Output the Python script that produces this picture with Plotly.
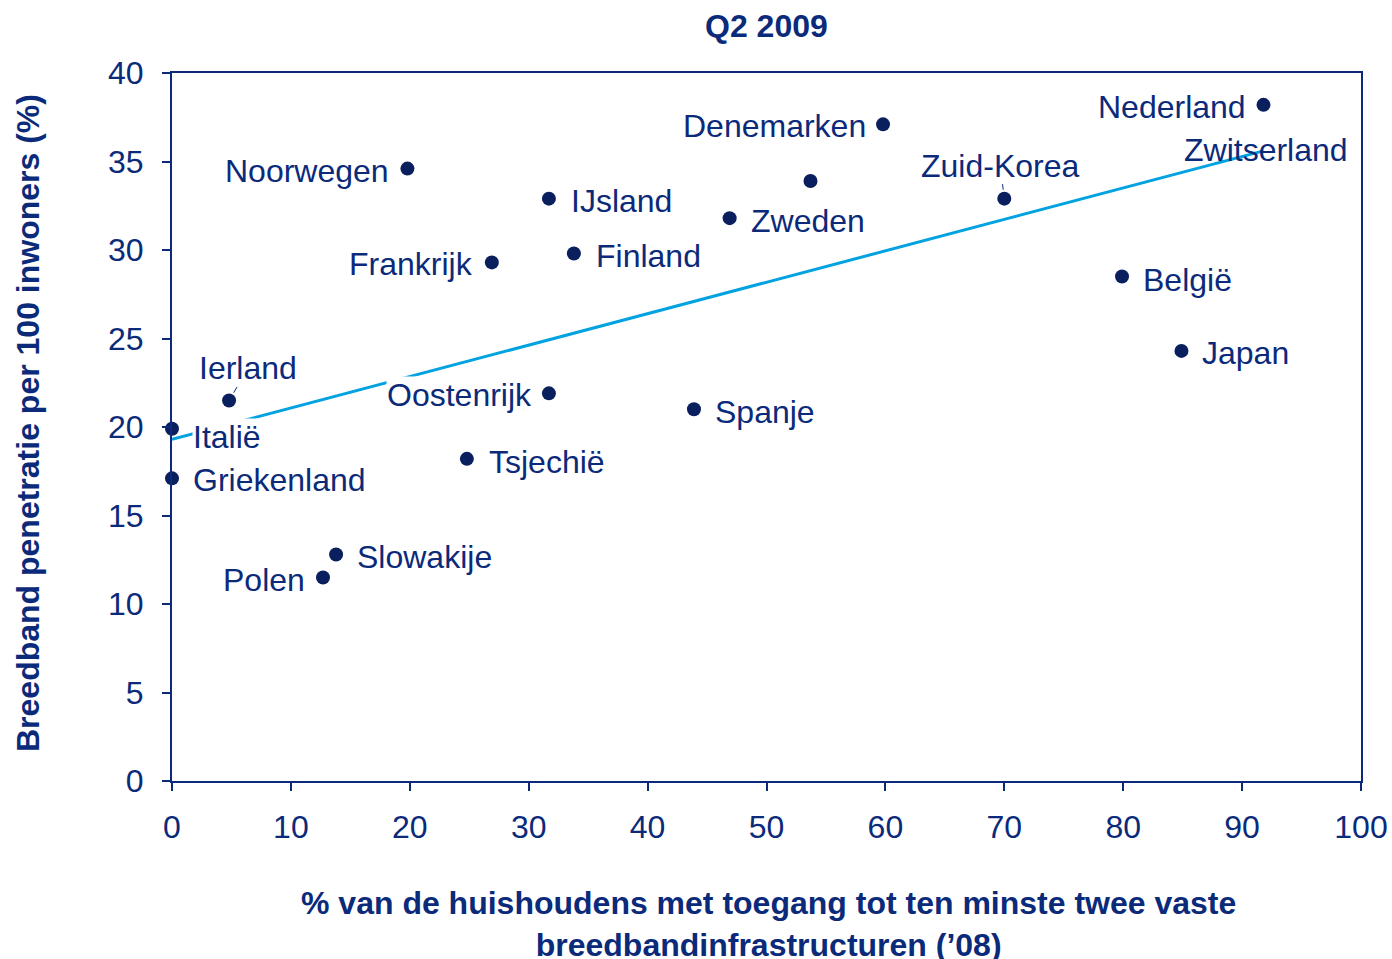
import plotly.graph_objects as go

# ---- data ----
countries = ["Nederland", "Denemarken", "Noorwegen", "Zwitserland", "IJsland", "Zuid-Korea",
             "Zweden", "Finland", "Frankrijk", "België", "Japan", "Ierland", "Oostenrijk",
             "Spanje", "Italië", "Tsjechië", "Griekenland", "Slowakije", "Polen"]
x_households = [91.8, 59.8, 19.8, 53.7, 31.7, 70.0, 46.9, 33.8, 26.9, 79.9, 84.9, 4.8, 31.7,
                43.9, 0.0, 24.8, 0.0, 13.8, 12.7]
y_penetration = [38.2, 37.1, 34.6, 33.9, 32.9, 32.9, 31.8, 29.8, 29.3, 28.5, 24.3, 21.5, 21.9,
                 21.0, 19.9, 18.2, 17.1, 12.8, 11.5]
trend_x = [0.0, 91.8]
trend_y = [19.3, 35.6]
x_ticks = [0, 10, 20, 30, 40, 50, 60, 70, 80, 90, 100]
y_ticks = [0, 5, 10, 15, 20, 25, 30, 35, 40]
title = "Q2 2009"
x_title = "% van de huishoudens met toegang tot ten minste twee vaste<br>breedbandinfrastructuren (’08)"
y_title = "Breedband penetratie per 100 inwoners (%)"

# ---- label placement styles (pixel offsets, not data) ----
# mode: 'r' text right of dot, 'l' text left of dot, 'a' leader line, 'f' free offset
# (dx, dy) in screen pixels, dy positive = downwards
label_style = {
    "Nederland": ("l", -17, 2), "Denemarken": ("l", -16, 2), "Noorwegen": ("l", -17, 2),
    "Zwitserland": ("f", 373, -31), "IJsland": ("r", 21, 2), "Zuid-Korea": ("a", -4, -33),
    "Zweden": ("r", 20, 3), "Finland": ("r", 21, 2), "Frankrijk": ("l", -18, 2),
    "België": ("r", 20, 3), "Japan": ("r", 20, 2), "Ierland": ("a", 19, -32),
    "Oostenrijk": ("l", -16, 2), "Spanje": ("r", 20, 3), "Italië": ("r", 20, 8),
    "Tsjechië": ("r", 21, 3), "Griekenland": ("r", 20, 2), "Slowakije": ("r", 20, 3),
    "Polen": ("l", -17, 3),
}

NAVY = "#0b2a7a"
DOT = "#0a1f5e"
CYAN = "#00a2e0"
FONT = "Liberation Sans, Arial, sans-serif"
FS = 32

fig = go.Figure()
fig.add_trace(go.Scatter(x=trend_x, y=trend_y, mode="lines",
                         line=dict(color=CYAN, width=3), hoverinfo="skip", showlegend=False,
                         cliponaxis=False))
fig.add_trace(go.Scatter(x=x_households, y=y_penetration, mode="markers", text=countries,
                         marker=dict(color=DOT, size=14), showlegend=False, cliponaxis=False))

annotations = []
for name, xv, yv in zip(countries, x_households, y_penetration):
    mode, dx, dy = label_style[name]
    a = dict(x=xv, y=yv, xref="x", yref="y", text=name,
             font=dict(family=FONT, size=FS, color=NAVY), borderpad=0)
    if mode == "a":
        a.update(showarrow=True, arrowhead=0, arrowwidth=1, arrowcolor=NAVY,
                 ax=dx, ay=dy, standoff=9, bgcolor="white")
    else:
        a.update(showarrow=False, xshift=dx, yshift=-dy, yanchor="middle",
                 xanchor="left" if mode in ("r", "f") else "right")
        if mode != "f":
            a["bgcolor"] = "white"
    annotations.append(a)

annotations.append(dict(x=0.5, y=1, xref="paper", yref="paper", text="<b>%s</b>" % title,
                        showarrow=False, yshift=47, yanchor="middle",
                        font=dict(family=FONT, size=FS, color=NAVY)))
annotations.append(dict(x=0.5, y=0, xref="paper", yref="paper", text="<b>%s</b>" % x_title,
                        showarrow=False, yshift=-143, yanchor="middle", xshift=2,
                        font=dict(family=FONT, size=FS, color=NAVY)))
annotations.append(dict(x=0, y=0.5, xref="paper", yref="paper", text="<b>%s</b>" % y_title,
                        showarrow=False, xshift=-144, yshift=4, textangle=-90,
                        xanchor="center", yanchor="middle",
                        font=dict(family=FONT, size=FS, color=NAVY)))

axis_common = dict(showgrid=False, zeroline=False, showline=True, linecolor=NAVY, linewidth=2,
                   mirror=True, ticks="outside", ticklen=8, tickwidth=2, tickcolor=NAVY,
                   automargin=False,
                   tickfont=dict(family=FONT, size=FS, color=NAVY))
fig.update_layout(
    width=1392, height=959,
    margin=dict(l=172, r=31, t=73, b=178),
    plot_bgcolor="white", paper_bgcolor="white",
    xaxis=dict(range=[0, 100], tickvals=x_ticks, ticklabelstandoff=9, **axis_common),
    yaxis=dict(range=[0, 40], tickvals=y_ticks, ticklabelstandoff=12, **axis_common),
    annotations=annotations,
)
fig.write_html("out.html", config={"displayModeBar": False},
               post_script="document.body.style.margin='0';document.body.style.overflow='hidden';")
